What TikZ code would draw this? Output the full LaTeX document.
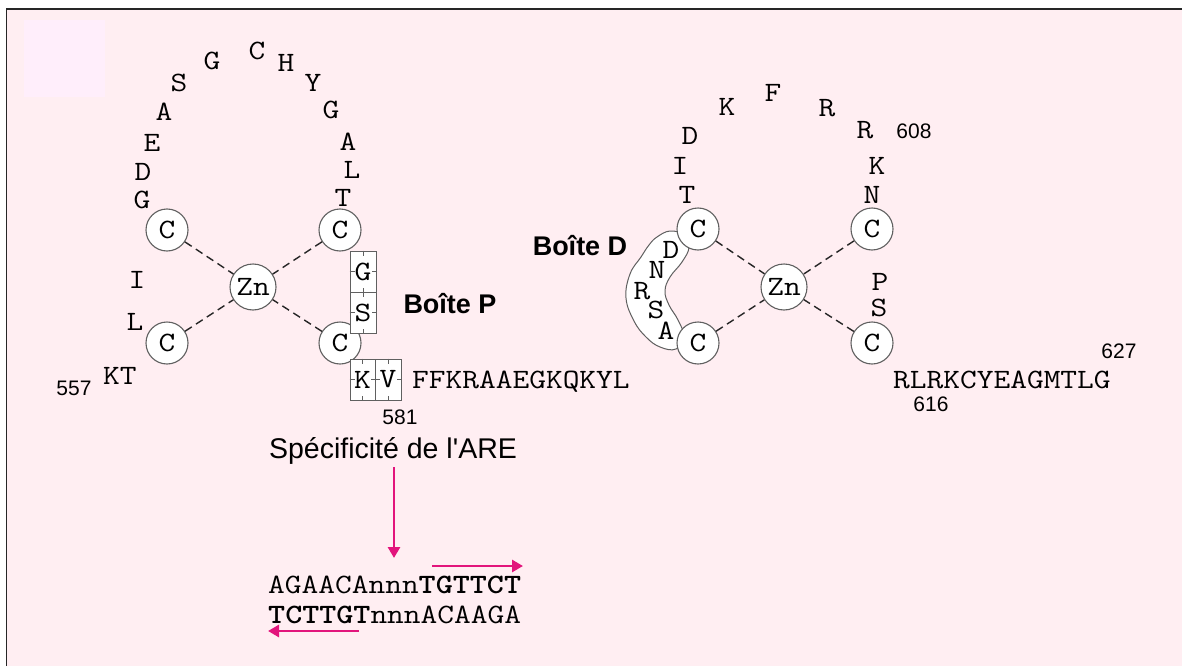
\documentclass[tikz,border=0pt]{standalone}
\usepackage{fontspec}
\usepackage{graphicx}
\newfontfamily\arial{Liberation Sans}
\usetikzlibrary{arrows.meta}
\definecolor{bgpink}{HTML}{FFEEF2}
\definecolor{sqpink}{HTML}{FFEEFB}
\definecolor{cgray}{HTML}{606060}
\definecolor{magentaA}{HTML}{E2147C}
\newcommand\amino[1]{\scalebox{1.16}[1]{\fontsize{28}{30}\selectfont\ttfamily #1}}
\newcommand\heavy[1]{{\bfseries #1}}
\newcommand\boxticks[1]{\draw[cgray,line width=0.8pt] (#1.north) -- ++(0,5) (#1.south) -- ++(0,-5) (#1.west) -- ++(5,0) (#1.east) -- ++(-5,0);}
\tikzset{
  res/.style={inner sep=0pt},
  cys/.style={circle, draw=cgray, fill=white, line width=1.1pt, minimum size=42pt, inner sep=0pt},
  znode/.style={circle, draw=cgray, fill=white, line width=1.1pt, minimum size=46pt, inner sep=0pt},
  bond/.style={dash pattern=on 8pt off 5pt, line width=1.4pt, draw=black!85},
  boxres/.style={draw=cgray, fill=white, line width=1pt, minimum width=26pt, minimum height=41pt, inner sep=0pt},
  numlab/.style={font=\arial\fontsize{21}{24}\selectfont, inner sep=0pt},
  boite/.style={font=\arial\bfseries\fontsize{27}{30}\selectfont, inner sep=0pt},
  mag/.style={draw=magentaA, line width=2.8pt, -{Triangle[length=11pt,width=12pt]}},
}
\begin{document}
\begin{tikzpicture}[x=1pt,y=-1pt]
\useasboundingbox (0,0) rectangle (1182,666);
\fill[bgpink] (6.5,9) rectangle (1182,666);
\draw[line width=1.2pt, black!85] (6.5,666) -- (6.5,9) -- (1182,9);
\fill[sqpink] (24,20) rectangle (105,97);

% ---------- left zinc finger ----------
\node[cys] (c1) at (167,230) {\amino{C}};
\node[cys] (c2) at (340,230) {\amino{C}};
\node[cys] (c3) at (167,343) {\amino{C}};
\node[cys] (c4) at (340,343) {\amino{C}};
\node[znode] (zn1) at (253,287) {\amino{Zn}};
\draw[bond] (c1) -- (zn1);
\draw[bond] (c2) -- (zn1);
\draw[bond] (c3) -- (zn1);
\draw[bond] (c4) -- (zn1);

\node[res] (l1) at (142,200) {\amino{G}};
\node[res] (l2) at (143,172) {\amino{D}};
\node[res] (l3) at (152,143) {\amino{E}};
\node[res] (l4) at (164,112) {\amino{A}};
\node[res] (l5) at (179,83) {\amino{S}};
\node[res] (l6) at (212,61) {\amino{G}};
\node[res] (l7) at (257,51) {\amino{C}};
\node[res] (l8) at (286,63) {\amino{H}};
\node[res] (l9) at (313,83) {\amino{Y}};
\node[res] (l10) at (331,110) {\amino{G}};
\node[res] (l11) at (348,142) {\amino{A}};
\node[res] (l12) at (352,170) {\amino{L}};
\node[res] (l13) at (343,198) {\amino{T}};
\node[res] (li) at (137,280) {\amino{I}};
\node[res] (ll) at (135,322) {\amino{L}};
\node[res, anchor=base west] (kt) at (103,384) {\amino{KT}};
\node[numlab] (n557) at (74,388) {557};

\node[boxres] (bg) at (363,271.5) {\amino{G}};
\node[boxres] (bs) at (363,312.5) {\amino{S}};
\node[boxres, minimum width=25pt] (bk) at (362.5,379.5) {\amino{K}};
\node[boxres] (bv) at (388,379.5) {\amino{V}};
\boxticks{bg}
\boxticks{bs}
\boxticks{bk}
\boxticks{bv}
\node[res, anchor=base west] (seq1) at (412,388) {\amino{FFKRAAEGKQKYL}};
\node[numlab] (n581) at (400,417) {581};
\node[boite] (bp) at (450,304) {Boîte P};

% ---------- right zinc finger ----------
\draw[cgray, line width=1pt, fill=white] plot[smooth cycle, tension=0.7] coordinates {
  (657,237) (670,231) (683,235) (689,247) (682,262) (670,277) (665,291) (669,305)
  (678,320) (684,337) (676,349) (660,347) (646,337) (634,321) (626,298) (630,274)
  (641,257) (649,245)};
\node[cys] (c5) at (698,229) {\amino{C}};
\node[cys] (c6) at (872,229) {\amino{C}};
\node[cys] (c7) at (698,343) {\amino{C}};
\node[cys] (c8) at (872,343) {\amino{C}};
\node[znode] (zn2) at (784,287) {\amino{Zn}};
\draw[bond] (c5) -- (zn2);
\draw[bond] (c6) -- (zn2);
\draw[bond] (c7) -- (zn2);
\draw[bond] (c8) -- (zn2);

\node[res] (d1) at (671,250) {\amino{D}};
\node[res] (d2) at (657,270) {\amino{N}};
\node[res] (d3) at (642,291) {\amino{R}};
\node[res] (d4) at (656,310) {\amino{S}};
\node[res] (d5) at (666,331) {\amino{A}};

\node[res] (r1) at (687,195) {\amino{T}};
\node[res] (r2) at (680,166) {\amino{I}};
\node[res] (r3) at (690,136) {\amino{D}};
\node[res] (r4) at (727,107) {\amino{K}};
\node[res] (r5) at (773,93) {\amino{F}};
\node[res] (r6) at (827,108) {\amino{R}};
\node[res] (r7) at (865,130) {\amino{R}};
\node[res] (r8) at (877,166) {\amino{K}};
\node[res] (r9) at (872,195) {\amino{N}};
\node[res] (rp) at (880,282) {\amino{P}};
\node[res] (rs) at (879,308) {\amino{S}};
\node[numlab] (n608) at (914,131) {608};
\node[res, anchor=base west] (seq2) at (893,388) {\amino{RLRKCYEAGMTLG}};
\node[numlab] (n627) at (1119,351) {627};
\node[numlab] (n616) at (931,404) {616};
\node[boite] (bd) at (580,246) {Boîte D};

% ---------- ARE ----------
\node[font=\arial\fontsize{28.5}{31}\selectfont, inner sep=0pt, anchor=base] (spec) at (393,458) {Spécificité de l'ARE};
\coordinate (a1s) at (394,467);
\coordinate (a1e) at (394,558);
\draw[mag] (a1s) -- (a1e);
\node[res, anchor=base west] (are1) at (268,593) {\amino{AGAACAnnn\heavy{TGTTCT}}};
\node[res, anchor=base west] (are2) at (268,623) {\amino{\heavy{TCTTGT}nnnACAAGA}};
\coordinate (a2s) at (432,566);
\coordinate (a2e) at (523,566);
\draw[mag] (a2s) -- (a2e);
\coordinate (a3s) at (359,631);
\coordinate (a3e) at (268,631);
\draw[mag] (a3s) -- (a3e);
\end{tikzpicture}
\end{document}
